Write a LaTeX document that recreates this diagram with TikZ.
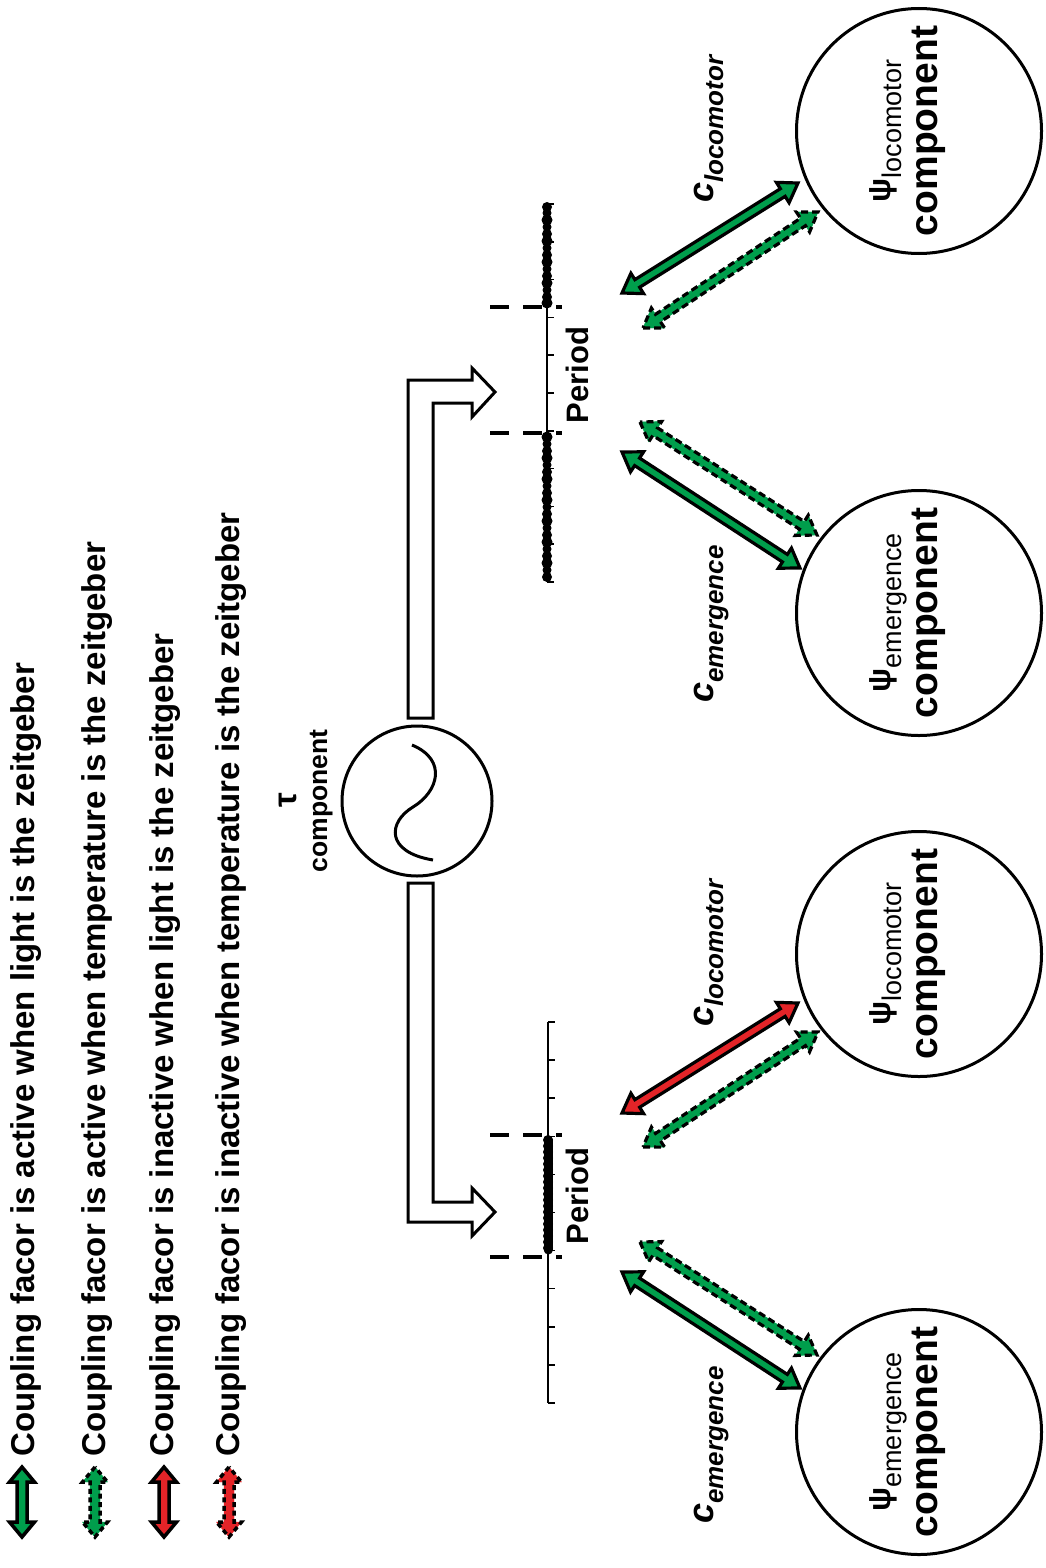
\documentclass[tikz,border=0pt]{standalone}
\usepackage{fontspec}
\setmainfont{Liberation Sans}
\usetikzlibrary{calc}
\definecolor{cgreen}{RGB}{0,158,76}
\definecolor{cred}{RGB}{228,36,40}
\newcommand\ahW{4.5}\newcommand\ahH{12}\newcommand\ahL{18}\newcommand\ahT{3.2}
% double block arrow: #1 fill colour, #2 outline style, #3 from, #4 to
\newcommand\dblarrow[4]{%
  \path let \p1=(#3), \p2=(#4) in \pgfextra{%
    \pgfmathsetmacro\tmpx{\x1}\pgfmathsetmacro\tmpy{\y1}%
    \pgfmathsetmacro\tmpa{atan2(\y2-\y1,\x2-\x1)}%
    \pgfmathsetmacro\tmpl{veclen(\x2-\x1,\y2-\y1)}%
    \xdef\dbx{\tmpx}\xdef\dby{\tmpy}\xdef\dba{\tmpa}\xdef\dbl{\tmpl}};
  \begin{scope}[shift={(\dbx pt,\dby pt)},rotate=\dba]
    \draw[black,line width=\ahT pt,line join=miter,#2,preaction={fill=#1,draw=#1,solid}]
      (0,0) -- (\ahL,\ahH) -- (\ahL,\ahW) -- ({\dbl-\ahL},\ahW) -- ({\dbl-\ahL},\ahH)
      -- (\dbl,0) -- ({\dbl-\ahL},-\ahH) -- ({\dbl-\ahL},-\ahW) -- (\ahL,-\ahW)
      -- (\ahL,-\ahH) -- cycle;
  \end{scope}}
\begin{document}
\begin{tikzpicture}[x=1pt,y=-1pt,
  circ/.style={circle,draw,line width=3pt,minimum size=245pt,inner sep=0pt},
  rtxt/.style={rotate=90,inner sep=0pt,anchor=base},
  legtxt/.style={rotate=90,inner sep=0pt,anchor=base west,font=\fontsize{33}{40}\selectfont\bfseries},
  clab/.style={rotate=90,inner sep=0pt,anchor=base west,font=\fontsize{36}{36}\selectfont\bfseries\itshape},
  psilab/.style={rotate=90,inner sep=0pt,anchor=base,font=\fontsize{32}{32}\selectfont},
  complab/.style={rotate=90,inner sep=0pt,anchor=base,font=\fontsize{39}{39}\selectfont\bfseries},
  blk/.style={draw,line width=3pt,fill=white,line join=miter},
  dsh/.style={dash pattern=on 7pt off 4pt},
  ldsh/.style={dash pattern=on 5pt off 3.5pt},
  perdash/.style={line width=3.5pt,dash pattern=on 19pt off 14pt},
  ]
\useasboundingbox (0,0) rectangle (1045,1568);

% ---------- legend ----------
\node[legtxt] (leg1) at (34,1457) {Coupling facor is active when light is the zeitgeber};
\node[legtxt] (leg2) at (105,1457) {Coupling facor is active when temperature is the zeitgeber};
\node[legtxt] (leg3) at (173,1457) {Coupling facor is inactive when light is the zeitgeber};
\node[legtxt] (leg4) at (239,1457) {Coupling facor is inactive when temperature is the zeitgeber};
\coordinate (la1) at (22,1467); \coordinate (lb1) at (22,1537);
\coordinate (la2) at (95,1467); \coordinate (lb2) at (95,1537);
\coordinate (la3) at (164,1467); \coordinate (lb3) at (164,1537);
\coordinate (la4) at (229,1467); \coordinate (lb4) at (229,1537);
\renewcommand\ahW{5}\renewcommand\ahH{12.5}\renewcommand\ahL{15}\renewcommand\ahT{3.5}
\dblarrow{cgreen}{solid}{la1}{lb1}
\dblarrow{cgreen}{ldsh}{la2}{lb2}
\dblarrow{cred}{solid}{la3}{lb3}
\dblarrow{cred}{ldsh}{la4}{lb4}
\renewcommand\ahW{4.5}\renewcommand\ahH{12}\renewcommand\ahL{18}\renewcommand\ahT{3.2}

% ---------- tau component ----------
\node[circle,draw,line width=3pt,minimum size=150pt,inner sep=0pt] (tau) at (417,801) {};
\draw[line width=3pt] (412,745) .. controls (448,760) and (438,792) .. (413,807)
  .. controls (388,822) and (385,852) .. (433,860);
\node[rtxt,font=\fontsize{33}{33}\selectfont\bfseries] (taulab) at (296,800) {τ};
\node[rtxt,font=\fontsize{26.5}{26.5}\selectfont\bfseries] (taucomp) at (327,801) {component};

% ---------- block arrows ----------
\draw[blk] (408,718) -- (408,380) -- (472,380) -- (472,368) -- (495,392) -- (472,417)
  -- (472,403) -- (433,403) -- (433,718) -- cycle;
\draw[blk] (408,883) -- (408,1222) -- (472,1222) -- (472,1236) -- (495,1212) -- (472,1188)
  -- (472,1202) -- (433,1202) -- (433,883) -- cycle;

% ---------- upper period plot ----------
\draw[line width=2pt] (547,204) -- (547,582);
\foreach \k in {0,...,10} \draw[line width=1.5pt] (547,{204+37.8*\k}) -- (554,{204+37.8*\k});
\foreach \y/\r in {207/5,213/4.5,220/5.5,227/4.5,234/5,241/5.5,248/4.5,255/5,262/5.5,
  269/4.5,276/5,283/5.5,290/4.5,297/5,303/5.5,437/5.5,444/4.5,451/5,458/5.5,465/4.5,472/5,
  479/5.5,486/4.5,493/5,500/5.5,507/4.5,514/5,521/5.5,528/4.5,535/5,542/5.5,549/4.5,
  556/5,563/5.5,570/4.5,577/5}
  \fill (547,\y) circle (\r);
\draw[perdash] (490,307) -- (562,307);
\draw[perdash] (490,433) -- (562,433);
\node[rtxt,font=\fontsize{31}{31}\selectfont\bfseries] (perU) at (588,375) {Period};

% ---------- lower period plot ----------
\draw[line width=2pt] (548,1022) -- (548,1403);
\foreach \k in {0,...,10} \draw[line width=1.5pt] (548,{1022+38.1*\k}) -- (555,{1022+38.1*\k});
\draw[line width=9pt,line cap=round] (548,1140) -- (548,1250);
\foreach \y in {1140,1146,...,1250} \fill (548,\y) circle (5);
\draw[perdash] (490,1135) -- (562,1135);
\draw[perdash] (490,1257) -- (562,1257);
\node[rtxt,font=\fontsize{31}{31}\selectfont\bfseries] (perL) at (588,1196) {Period};

% ---------- psi components ----------
\node[circ] (psiLU) at (919,131) {};
\node[circ] (psiEU) at (919,613) {};
\node[circ] (psiLL) at (919,954) {};
\node[circ] (psiEL) at (919,1432) {};
\foreach \n/\cy/\s in {a/131/locomotor,b/613/emergence,c/954/locomotor,d/1432/emergence}{
  \node[psilab] (psit\n) at (890,\cy) {{\bfseries ψ}\raisebox{-11pt}{\fontsize{27}{27}\selectfont \s}};
  \node[complab] (comp\n) at (937,\cy) {component};
}

% ---------- coupling labels ----------
\node[clab] (cLU) at (713,203) {c\raisebox{-10pt}{\fontsize{26}{26}\selectfont locomotor}};
\node[clab] (cEU) at (713,703) {c\raisebox{-10pt}{\fontsize{26}{26}\selectfont emergence}};
\node[clab] (cLL) at (713,1027) {c\raisebox{-10pt}{\fontsize{26}{26}\selectfont locomotor}};
\node[clab] (cEL) at (713,1524) {c\raisebox{-10pt}{\fontsize{26}{26}\selectfont emergence}};

% ---------- coupling arrows ----------
\coordinate (u1a) at (622,293);  \coordinate (u1b) at (798,183);
\coordinate (u2a) at (643,328);  \coordinate (u2b) at (818,212);
\coordinate (u3a) at (640,422);  \coordinate (u3b) at (817,535);
\coordinate (u4a) at (622,452);  \coordinate (u4b) at (800,568);
\coordinate (l1a) at (622,1113); \coordinate (l1b) at (798,1003);
\coordinate (l2a) at (643,1147); \coordinate (l2b) at (818,1032);
\coordinate (l3a) at (640,1242); \coordinate (l3b) at (817,1355);
\coordinate (l4a) at (622,1272); \coordinate (l4b) at (800,1388);
\dblarrow{cgreen}{solid}{u1a}{u1b}
\dblarrow{cgreen}{dsh}{u2a}{u2b}
\dblarrow{cgreen}{dsh}{u3a}{u3b}
\dblarrow{cgreen}{solid}{u4a}{u4b}
\dblarrow{cred}{solid}{l1a}{l1b}
\dblarrow{cgreen}{dsh}{l2a}{l2b}
\dblarrow{cgreen}{dsh}{l3a}{l3b}
\dblarrow{cgreen}{solid}{l4a}{l4b}
\end{tikzpicture}
\end{document}
